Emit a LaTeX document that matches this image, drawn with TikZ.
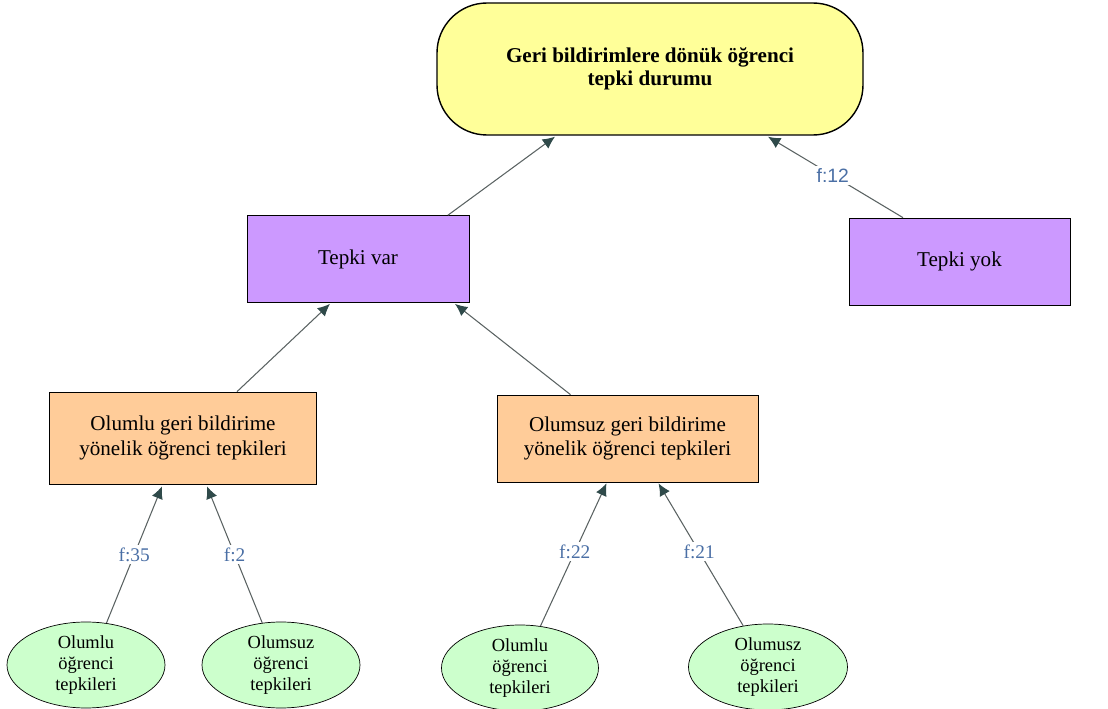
\documentclass[tikz,border=0pt]{standalone}
\usepackage{fontspec}
\setmainfont{Liberation Serif}
\setsansfont{Liberation Sans}
\usepackage{xcolor}
\usetikzlibrary{shapes,arrows,positioning,calc,arrows.meta}

\definecolor{topyellow}{HTML}{FFFF99}
\definecolor{boxpurple}{HTML}{CC99FF}
\definecolor{boxorange}{HTML}{FFCC99}
\definecolor{leafgreen}{HTML}{CCFFCC}
\definecolor{linkgray}{HTML}{5A6262}
\definecolor{tipslate}{HTML}{2F4A4A}
\definecolor{freqblue}{HTML}{4A6FA5}

\tikzset{
    mainbox/.style={draw, line width=0.8pt, fill=topyellow, rectangle, rounded corners=1.0cm,
        minimum width=8.52cm, minimum height=2.64cm, align=center,
        font=\fontsize{12}{13}\selectfont\bfseries},
    midbox/.style={draw, fill=boxpurple, rectangle, align=center,
        minimum height=1.74cm, font=\fontsize{12}{14}\selectfont},
    subbox/.style={draw, fill=boxorange, rectangle, align=center,
        font=\fontsize{12}{14}\selectfont},
    leaf/.style={draw, fill=leafgreen, ellipse, inner sep=0pt, align=center,
        minimum width=3.16cm, minimum height=1.72cm,
        font=\fontsize{10.5}{12}\selectfont},
    link/.style={draw=linkgray, line width=0.6pt,
        -{Latex[length=7pt,width=6.5pt,color=tipslate]}},
    freq/.style={fill=white, inner sep=1.5pt, text=freqblue,
        font=\fontsize{11}{12}\selectfont}
}

\begin{document}
\begin{tikzpicture}
    \useasboundingbox (0,0) rectangle (22.16,-14.18);

    % Top node
    \node[mainbox] (durum) at (13.0,-1.38) {Geri bildirimlere dönük öğrenci\\tepki durumu};

    % Second level
    \node[midbox, minimum width=4.44cm] (var) at (7.16,-5.18) {Tepki var};
    \node[midbox, minimum width=4.42cm] (yok) at (19.19,-5.23) {Tepki yok};

    % Third level
    \node[subbox, minimum width=5.34cm, minimum height=1.84cm] (olumlu) at (3.66,-8.76)
        {Olumlu geri bildirime\\yönelik öğrenci tepkileri};
    \node[subbox, minimum width=5.22cm, minimum height=1.74cm] (olumsuz) at (12.55,-8.77)
        {Olumsuz geri bildirime\\yönelik öğrenci tepkileri};

    % Leaves
    \node[leaf] (ol1) at (1.72,-13.30) {Olumlu\\öğrenci\\tepkileri};
    \node[leaf] (ol2) at (5.62,-13.30) {Olumsuz\\öğrenci\\tepkileri};
    \node[leaf, minimum width=3.14cm] (os1) at (10.40,-13.36) {Olumlu\\öğrenci\\tepkileri};
    \node[leaf, minimum width=3.18cm] (os2) at (15.36,-13.34) {Olumusz\\öğrenci\\tepkileri};

    % Links to the top
    \draw[link] ([xshift=1.8cm]var.north) -- ([xshift=-1.9cm,yshift=-0.02cm]durum.south);
    \draw[link] ([xshift=-1.13cm]yok.north) -- node[freq, pos=0.52, font=\sffamily\fontsize{11}{12}\selectfont] {f:12}
        ([xshift=2.36cm,yshift=-0.02cm]durum.south);

    % Links to Tepki var
    \draw[link] ([xshift=1.08cm]olumlu.north) -- ([xshift=-0.56cm,yshift=-0.02cm]var.south);
    \draw[link] ([xshift=-1.14cm]olumsuz.north) -- ([xshift=1.94cm,yshift=-0.02cm]var.south);

    % Links from the leaves
    \draw[link] (ol1.64) -- node[freq, pos=0.5] {f:35} ([xshift=-0.42cm,yshift=-0.04cm]olumlu.south);
    \draw[link] (ol2.114) -- node[freq, pos=0.5] {f:2} ([xshift=0.48cm,yshift=-0.04cm]olumlu.south);
    \draw[link] (os1.64) -- node[freq, pos=0.52] {f:22} ([xshift=-0.42cm,yshift=-0.02cm]olumsuz.south);
    \draw[link] (os2.121) -- node[freq, pos=0.52] {f:21} ([xshift=0.62cm,yshift=-0.02cm]olumsuz.south);
\end{tikzpicture}
\end{document}
